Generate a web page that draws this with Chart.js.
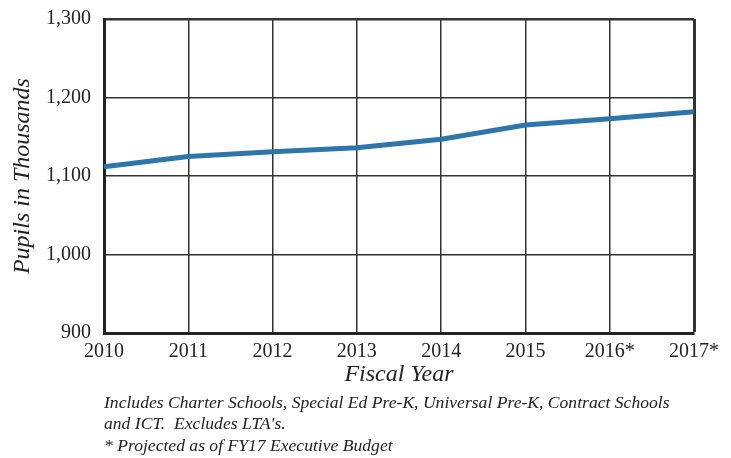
<!DOCTYPE html>
<html>
<head>
<meta charset="utf-8">
<script src="https://cdn.jsdelivr.net/npm/chart.js@4.4.1/dist/chart.umd.min.js"></script>
<style>
    html, body { margin: 0; padding: 0; background: #fff; }
    #wrap { position: relative; width: 731px; height: 458px; }
    .note {
        position: absolute;
        left: 104px;
        font-family: "Liberation Serif", "DejaVu Serif", serif;
        font-style: italic;
        font-size: 17.6px;
        color: #222;
        white-space: nowrap;
        line-height: 20px;
    }
</style>
</head>
<body>
<div id="wrap">
    <canvas id="pupils" width="731" height="458"></canvas>
    <div class="note" style="top: 392px;">Includes Charter Schools, Special Ed Pre-K, Universal Pre-K, Contract Schools</div>
    <div class="note" style="top: 413px;">and ICT.&nbsp; Excludes LTA's.</div>
    <div class="note" style="top: 435px;">* Projected as of FY17 Executive Budget</div>
</div>
<script>
// Fiscal years along the bottom
const years = ['2010', '2011', '2012', '2013', '2014', '2015', '2016*', '2017*'];
// Pupils in thousands
const pupils = [1112, 1125, 1131, 1136, 1147, 1165, 1173, 1182];
// y axis range
const yMin = 900;
const yMax = 1300;
const yStep = 100;

const serif = '"Liberation Serif", "DejaVu Serif", serif';

document.addEventListener('DOMContentLoaded', function() {
    const ctx = document.getElementById('pupils');

    new Chart(ctx, {
        type: 'line',
        data: {
            labels: years,
            datasets: [{
                label: 'Pupils',
                data: pupils,
                borderColor: 'rgb(46, 117, 170)',
                borderWidth: 5,
                pointRadius: 0,
                tension: 0,
                fill: false
            }]
        },
        options: {
            responsive: false,
            animation: false,
            layout: {
                padding: { left: 8, right: 37, top: 19, bottom: 69 }
            },
            plugins: {
                legend: { display: false },
                tooltip: { enabled: false }
            },
            scales: {
                x: {
                    offset: false,
                    grid: {
                        color: '#333',
                        lineWidth: function(c) {
                            return c.index === years.length - 1 ? 3 : 1.5;
                        },
                        drawTicks: false
                    },
                    border: { display: true, color: '#222', width: 3 },
                    ticks: {
                        color: '#222',
                        font: { family: serif, size: 20, lineHeight: 1.0 },
                        padding: 9,
                        maxRotation: 0,
                        autoSkip: false
                    },
                    title: {
                        display: true,
                        text: 'Fiscal Year',
                        color: '#222',
                        font: { family: serif, size: 24, style: 'italic' },
                        padding: { top: -11, bottom: 0 }
                    }
                },
                y: {
                    min: yMin,
                    max: yMax,
                    grid: {
                        color: '#333',
                        lineWidth: function(c) {
                            return c.tick && c.tick.value === yMax ? 2.5 : 1.5;
                        },
                        drawTicks: false
                    },
                    border: { display: true, color: '#222', width: 3 },
                    ticks: {
                        stepSize: yStep,
                        color: '#222',
                        font: { family: serif, size: 20 },
                        padding: 13,
                        callback: function(value) {
                            return value.toLocaleString('en-US');
                        }
                    },
                    title: {
                        display: true,
                        text: 'Pupils in Thousands',
                        color: '#222',
                        font: { family: serif, size: 24, style: 'italic' },
                        padding: { top: 0, bottom: 0 }
                    },
                    afterFit: function(scale) {
                        scale.width = 96;
                        scale.paddingTop = 0;
                        scale.paddingBottom = 0;
                    }
                }
            }
        }
    });
});
</script>
</body>
</html>
